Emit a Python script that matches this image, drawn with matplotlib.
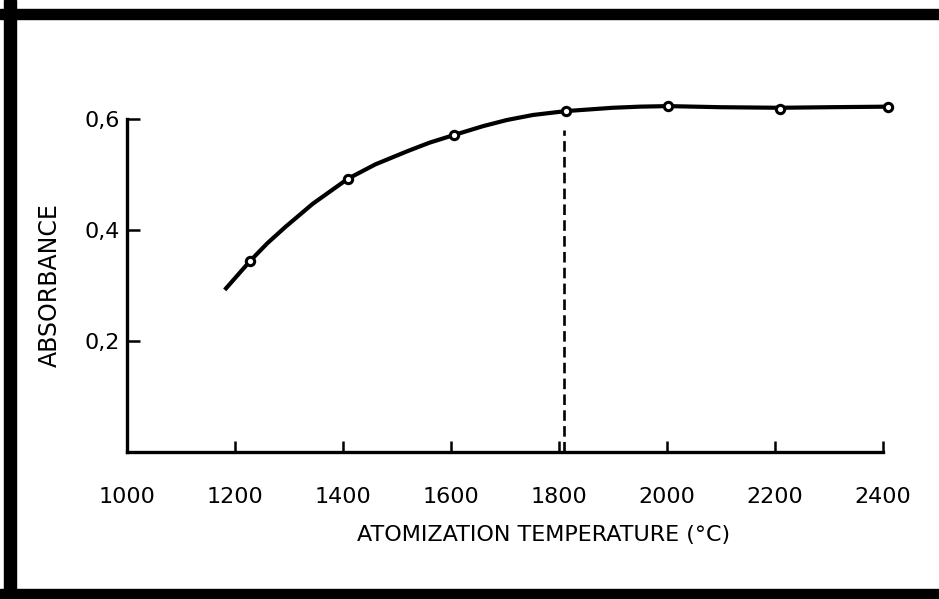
import matplotlib
matplotlib.use("Agg")
import matplotlib.pyplot as plt
from matplotlib.patches import Rectangle

# puntos medidos (circulos)
temp_pts = [1228, 1409, 1606, 1813, 2002, 2209, 2409]
abs_pts = [0.344, 0.492, 0.571, 0.614, 0.623, 0.618, 0.622]

# trazo de la curva
curve_x = [1181, 1228, 1260, 1293, 1344, 1409, 1460, 1520, 1560, 1606, 1660,
           1704, 1752, 1813, 1900, 1950, 2002, 2100, 2209, 2300, 2409]
curve_y = [0.292, 0.344, 0.376, 0.405, 0.447, 0.492, 0.518, 0.542, 0.557, 0.571,
           0.587, 0.598, 0.607, 0.614, 0.620, 0.622, 0.623, 0.621, 0.620, 0.621,
           0.622]

# linea discontinua de temperatura optima
opt_temp = 1810
opt_top = 0.58

x_ticks = [1000, 1200, 1400, 1600, 1800, 2000, 2200, 2400]
y_ticks = [0.2, 0.4, 0.6]
y_labels = ["0,2", "0,4", "0,6"]

plt.rcParams['font.family'] = ['DejaVu Sans']

W, H = 939, 599
fig = plt.figure(figsize=(W / 100, H / 100), dpi=100)
fig.patch.set_facecolor("white")

# marco negro del escaneado
fig.patches.append(Rectangle((4 / W, 0), 12 / W, 1, transform=fig.transFigure,
                             color="black", zorder=0))
fig.patches.append(Rectangle((0, 1 - 19 / H), 1, 10 / H, transform=fig.transFigure,
                             color="black", zorder=0))
fig.patches.append(Rectangle((0, 0), 1, 10 / H, transform=fig.transFigure,
                             color="black", zorder=0))

ax = fig.add_axes([127 / W, (H - 452) / H, 773 / W, 362 / H])
ax.set_xlim(1000, 2432)
ax.set_ylim(0, 0.652)

ax.plot(curve_x, curve_y, color="black", lw=3, solid_capstyle="butt",
        solid_joinstyle="round")
ax.plot(temp_pts, abs_pts, "o", color="black", markerfacecolor="white",
        markersize=6, markeredgewidth=2.2)
ax.plot([opt_temp, opt_temp], [0, opt_top], color="black", lw=1.9,
        dashes=(4, 2))

for s in ["top", "right"]:
    ax.spines[s].set_visible(False)
ax.spines["left"].set_linewidth(2.4)
ax.spines["bottom"].set_linewidth(2.4)
ax.spines["left"].set_bounds(0, 0.6)
ax.spines["bottom"].set_bounds(1000, 2400)

ax.set_xticks(x_ticks)
ax.set_xticklabels([str(t) for t in x_ticks])
ax.set_yticks(y_ticks)
ax.set_yticklabels(y_labels)
ax.tick_params(axis="x", direction="in", length=8, width=1.8, pad=25,
               labelsize=16)
ax.tick_params(axis="y", direction="in", length=9, width=1.8, pad=5,
               labelsize=16)

fig.text(544 / W, 1 - 535 / H, "ATOMIZATION TEMPERATURE (°C)", ha="center",
         va="center", fontsize=16)
fig.text(50 / W, 1 - 285 / H, "ABSORBANCE", ha="center", va="center",
         rotation=90, fontsize=17)

fig.savefig("out.png", dpi=100)
